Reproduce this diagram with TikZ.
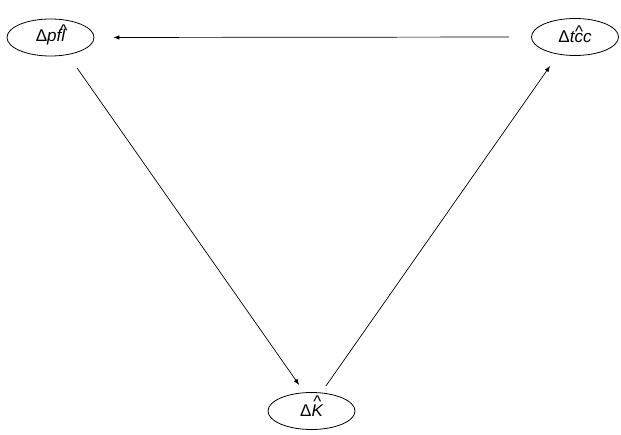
\documentclass[tikz,border=0pt]{standalone}
\usepackage{fontspec}
\setmainfont{Liberation Sans}
\usetikzlibrary{shapes.geometric,arrows.meta}
\newcommand{\hatup}[2][0.3em]{\ooalign{#2\cr\hidewidth\raisebox{#1}{\^{}}\hidewidth\cr}}
\tikzset{
  var/.style={ellipse,draw,line width=0.8pt,minimum width=87pt,minimum height=37pt,inner sep=0pt,font=\fontsize{17}{20}\selectfont},
  link/.style={line width=0.7pt,-{Latex[length=6pt,width=4.5pt]}}
}
\begin{document}
\begin{tikzpicture}[x=1pt,y=1pt]
\useasboundingbox (0,0) rectangle (621,434);
\node[var] (pfl) at (50.5,396.5) {Δ\textit{pf\hatup{l}}};
\node[var] (tcc) at (575,397) {Δ\textit{t\hatup{c}c}};
\node[var] (K) at (311.5,23) {Δ\textit{\hatup[0.55em]{K}}};
\draw[link,shorten <=22pt,shorten >=19pt] (tcc.west) -- (pfl.east);
\draw[link,shorten <=16pt,shorten >=9pt] (pfl.-45) -- (K.111);
\draw[link,shorten <=8pt,shorten >=14pt] (K.62) -- (tcc.226);
\end{tikzpicture}
\end{document}
